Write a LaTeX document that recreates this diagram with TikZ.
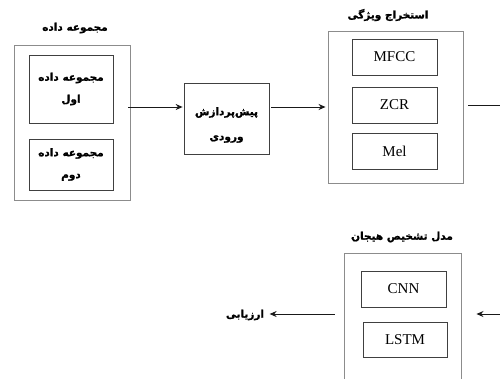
\documentclass[tikz,border=0pt]{standalone}
\usepackage{fontspec}
\setmainfont{Liberation Serif}
\newfontfamily\arabicfont[Script=Arabic,BoldFeatures={FakeBold=1.2}]{DejaVu Sans}
\TeXXeTstate=1
\usetikzlibrary{arrows.meta}
\newcommand{\fa}[1]{\beginR #1\endR}
\begin{document}
\begin{tikzpicture}[x=1pt,y=-1pt,
  outerbox/.style={draw=black!45,line width=0.9pt},
  innerbox/.style={draw=black!75,line width=0.7pt,align=center},
  fatext/.style={font=\arabicfont\bfseries\fontsize{10.5}{22}\selectfont,align=center},
  entext/.style={font=\fontsize{15}{18}\selectfont},
  conn/.style={draw=black!90,line width=1pt},
  arr/.style={conn,-{Stealth[length=7pt,width=6pt]}}]
\clip (0,0) rectangle (500,378);
\fill[white] (0,0) rectangle (500,378);
% dataset
\node[outerbox,minimum width=116pt,minimum height=155pt] (ds) at (72,122.5) {};
\node[fatext] (dst) at (75,28) {\fa{مجموعه داده}};
\node[innerbox,fatext,minimum width=84pt,minimum height=68pt] (d1) at (71,89) {\fa{مجموعه داده}\\\fa{اول}};
\node[innerbox,fatext,minimum width=84pt,minimum height=51pt] (d2) at (71,164.5) {\fa{مجموعه داده}\\\fa{دوم}};
% preprocessing
\node[innerbox,fatext,font=\arabicfont\bfseries\fontsize{10.5}{25}\selectfont,minimum width=85pt,minimum height=71pt] (pp) at (226.5,118.5) {\rule{0pt}{21pt}\fa{پیش‌پردازش}\\\fa{ورودی}};
% features
\node[outerbox,minimum width=135pt,minimum height=152pt] (fe) at (395.5,107) {};
\node[fatext] (fet) at (388,15) {\fa{استخراج ویژگی}};
\node[innerbox,entext,minimum width=85pt,minimum height=36pt] (mfcc) at (394.5,57) {MFCC};
\node[innerbox,entext,minimum width=85pt,minimum height=36pt] (zcr) at (394.5,105) {ZCR};
\node[innerbox,entext,minimum width=85pt,minimum height=36pt] (mel) at (394.5,151) {Mel};
% model
\node[outerbox,minimum width=117pt,minimum height=150pt] (md) at (402.5,328) {};
\node[fatext] (mdt) at (402,237) {\fa{مدل تشخیص هیجان}};
\node[innerbox,entext,minimum width=85pt,minimum height=36pt] (cnn) at (403.5,289) {CNN};
\node[innerbox,entext,minimum width=84pt,minimum height=35pt] (lstm) at (405,339.5) {LSTM};
\node[fatext] (ev) at (245,315) {\fa{ارزیابی}};
% connectors
\coordinate (feout) at (500,105);
\coordinate (mdin) at (500,314);
\draw[arr] ([xshift=-2pt]ds.east |- 0,107) -- ([xshift=-1pt]pp.west |- 0,107);
\draw[arr] ([xshift=2pt]pp.east |- 0,107) -- ([xshift=-2pt]fe.west |- 0,107);
\draw[conn] ([xshift=5pt]fe.east |- feout) -- (feout);
\draw[arr] (mdin) -- ([xshift=15pt]md.east |- mdin);
\draw[arr] ([xshift=-9pt]md.west |- mdin) -- ([xshift=2pt]ev.east |- mdin);
\end{tikzpicture}
\end{document}
